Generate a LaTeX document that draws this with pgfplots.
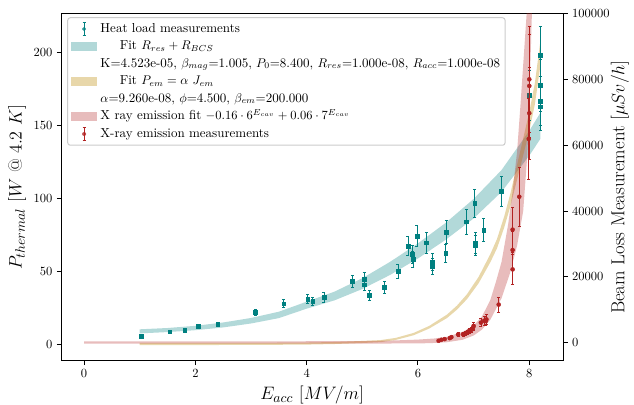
\documentclass[border=0pt]{standalone}
\usepackage{pgfplots}
\pgfplotsset{compat=1.18}
\usepackage{pgfplotstable}
\definecolor{tealc}{RGB}{0,128,128}
\definecolor{redc}{RGB}{178,34,34}
\definecolor{goldc}{RGB}{198,155,43}

% heat load measurements: E_acc, P_thermal, error
\pgfplotstableread{
E P err
1.03 5.5 0.55
1.54 8.5 0.85
1.81 9.6 0.96
2.05 12.4 1.24
2.40 13.7 1.37
3.08 21.8 2.2
3.59 27.7 2.8
4.02 30.9 3.1
4.11 29.3 2.9
4.31 32.0 3.2
4.82 43.0 4.3
5.03 44.5 4.45
5.03 40.8 4.1
5.13 33.7 3.4
5.40 39.0 3.9
5.64 50.0 5.0
5.82 67.4 6.7
5.90 61.6 6.2
5.91 58.2 5.8
5.98 74.2 7.4
6.15 69.6 7.0
6.26 56.4 5.6
6.26 53.3 5.3
6.50 62.3 6.2
6.51 77.0 7.7
6.87 84.0 8.4
7.02 96.5 9.7
7.03 68.0 6.8
7.03 69.6 7.0
7.18 78.2 7.8
7.50 105.0 10.5
8.00 171.0 17.1
8.20 198.6 19.9
8.20 178.0 17.8
8.20 167.0 16.7
8.20 163.0 16.3
}\heatdata

% x-ray measurements: E_acc, dose rate, error
\pgfplotstableread{
E D err
6.37 600 120
6.42 900 180
6.48 1100 220
6.57 1400 280
6.60 1700 340
6.72 2500 500
6.81 2600 520
6.86 2900 580
6.89 3100 620
6.92 3600 720
6.96 3900 780
6.99 4600 920
7.00 5100 1020
7.13 6100 1220
7.19 6700 1340
7.22 6600 1320
7.23 7100 1420
7.45 11600 2320
7.70 22300 4460
7.70 28200 5640
7.70 34400 6880
7.82 44400 8880
7.99 62000 12400
8.00 69800 13960
8.00 78100 15620
8.00 80100 16020
}\xraydata

\pgfplotsset{
  bandleg/.style={legend image code/.code={
    \path[fill=#1, draw=none, sharp corners] (0pt,-3.75pt) rectangle (21.4pt,3.75pt);}},
  common/.style={
    scale only axis, width=401.6pt, height=278pt,
    xmin=-0.41, xmax=8.61,
    tick align=outside, major tick length=3.5pt,
    tick style={black, line width=0.8pt},
    axis line style={line width=0.8pt},
    label style={font=\fontsize{15}{18}\selectfont},
  },
}

\begin{document}
\begin{tikzpicture}
\begin{axis}[common, name=ax,
  ymin=-11.5, ymax=227.3,
  tick pos=left,
  xtick={0,2,4,6,8}, ytick={0,50,100,150,200},
  xlabel={$E_{acc}$ $[MV/m]$},
  ylabel={$P_{thermal}$ $[W$ @ $4.2$ $K]$},
  xlabel style={at={(axis description cs:0.5,-0.099)}, anchor=center},
  ylabel style={at={(axis description cs:-0.088,0.5)}, anchor=center},
]
% fit R_res + R_BCS band
\addplot[fill=tealc, fill opacity=0.3, draw=none] coordinates {
  (1.0,10.1) (1.5,11.0) (2.0,12.5) (2.5,14.8) (3.0,17.9) (3.5,22.2)
  (4.0,29.1) (4.5,36.0) (5.0,45.2) (5.5,56.5) (6.0,69.2) (6.5,83.3)
  (7.0,99.7) (7.5,119.5) (8.0,146.5) (8.2,159.0)
  (8.2,141.0) (8.0,129.5) (7.5,104.5) (7.0,86.3) (6.5,71.7) (6.0,58.8)
  (5.5,47.5) (5.0,37.8) (4.5,30.0) (4.0,24.3) (3.5,17.8) (3.0,14.1)
  (2.5,11.4) (2.0,9.5) (1.5,8.2) (1.0,7.3)
};
% fit P_em band
\addplot[fill=goldc, fill opacity=0.4, draw=none] coordinates {
  (1.0,0.7) (2.0,0.7) (3.0,0.75) (4.0,1.0) (4.5,1.4) (5.0,2.1)
  (5.33,2.7) (5.6,4.2) (5.92,7.6) (6.2,12.4) (6.52,20.2) (6.7,26.4)
  (6.88,34.2) (7.09,46.2) (7.3,61.8) (7.42,72.2) (7.55,87.8) (7.66,103.4)
  (7.78,123.1) (7.9,142.9) (8.0,159.5) (8.1,179.3) (8.2,208.4)
  (8.2,191.6) (8.1,164.7) (8.0,146.5) (7.9,131.1) (7.78,112.9) (7.66,94.6)
  (7.55,80.2) (7.42,65.8) (7.3,56.2) (7.09,41.8) (6.88,30.8) (6.7,23.6)
  (6.52,17.8) (6.2,10.6) (5.92,6.0) (5.6,2.8) (5.33,1.3) (5.0,0.7)
  (4.5,0.0) (4.0,-0.4) (3.0,-0.65) (2.0,-0.7) (1.0,-0.7)
};
\addplot[only marks, mark=square*, mark size=1.5pt, color=tealc,
  error bars/.cd, y dir=both, y explicit,
  error bar style={line width=0.6pt, tealc},
  error mark options={rotate=90, mark size=1.2pt, line width=0.6pt, tealc}]
  table[x=E, y=P, y error=err] {\heatdata};
\end{axis}

\begin{axis}[common,
  ymin=-5480, ymax=100200,
  axis x line=none, axis y line*=right,
  ytick={0,20000,40000,60000,80000,100000},
  scaled y ticks=false,
  yticklabel style={/pgf/number format/fixed, /pgf/number format/1000 sep={}},
  ylabel={Beam Loss Measurement $[\mu Sv/h]$},
  ylabel style={at={(axis description cs:1.113,0.5)}, anchor=center},
  legend cell align=left,
  legend style={at={(axis description cs:0,1)}, anchor=north west,
    xshift=4.8pt, yshift=-3.2pt,
    draw=black!20, line width=0.8pt, rounded corners=2pt,
    fill=white, fill opacity=0.8, text opacity=1,
    font=\fontsize{10.4}{12.4}\selectfont, inner sep=2pt,
    /tikz/every even column/.append style={column sep=8pt},
    nodes={text height=7.5pt, text depth=2.5pt, inner ysep=2pt}},
]
\addlegendimage{legend image code/.code={
  \path (0pt,0pt) (21.4pt,0pt);
  \draw[tealc, line width=0.6pt, sharp corners] (10.7pt,-5pt) -- (10.7pt,5pt)
    (9.5pt,-5pt) -- (11.9pt,-5pt) (9.5pt,5pt) -- (11.9pt,5pt);
  \path[fill=tealc, draw=none] (9.2pt,-1.5pt) rectangle (12.2pt,1.5pt);}}
\addlegendentry{Heat load measurements}
\addlegendimage{bandleg={tealc, fill opacity=0.3}}
\addlegendentry{\hspace*{15.5pt}Fit $R_{res}+R_{BCS}$}
\addlegendimage{empty legend}
\addlegendentry{K=4.523e-05, $\beta_{mag}$=1.005, $P_0$=8.400, $R_{res}$=1.000e-08, $R_{acc}$=1.000e-08}
\addlegendimage{bandleg={goldc, fill opacity=0.4}}
\addlegendentry{\hspace*{15.5pt}Fit $P_{em}=\alpha\ J_{em}$}
\addlegendimage{empty legend}
\addlegendentry{$\alpha$=9.260e-08, $\phi$=4.500, $\beta_{em}$=200.000}

% x-ray emission fit band
\addplot[fill=redc, fill opacity=0.3, draw=none, bandleg={redc, fill opacity=0.3}] coordinates {
  (0,400) (3,400) (5,500) (5.5,650) (6.0,950) (6.3,1300) (6.52,1800)
  (6.8,3300) (7.0,5200) (7.15,8000) (7.3,13000) (7.4,18500) (7.5,24500)
  (7.62,36000) (7.7,46000) (7.78,58000) (7.84,72000) (7.9,87000) (7.96,102000)
  (8.05,102000) (8.02,85000) (8.0,70000) (7.96,56000) (7.89,40000)
  (7.78,29500) (7.65,21000) (7.5,13500) (7.3,7000) (7.15,4000) (7.0,2200)
  (6.8,900) (6.52,150) (6.2,-150) (5,-300) (0,-300)
};
\addlegendentry{X ray emission fit $-0.16\cdot 6^{E_{cav}}+0.06\cdot 7^{E_{cav}}$}
\addplot[only marks, mark=*, mark size=1.6pt, color=redc,
  error bars/.cd, y dir=both, y explicit,
  error bar style={line width=0.6pt, redc},
  error mark options={rotate=90, mark size=1.2pt, line width=0.6pt, redc},
  /pgfplots/legend image code/.code={
    \path (0pt,0pt) (21.4pt,0pt);
    \draw[redc, line width=0.6pt, sharp corners] (10.7pt,-5pt) -- (10.7pt,5pt)
      (9.5pt,-5pt) -- (11.9pt,-5pt) (9.5pt,5pt) -- (11.9pt,5pt);
    \path[fill=redc, draw=none] (10.7pt,0pt) circle (1.6pt);}]
  table[x=E, y=D, y error=err] {\xraydata};
\addlegendentry{X-ray emission measurements}
\end{axis}
\pgfresetboundingbox
\path[use as bounding box] ([xshift=-49pt,yshift=-35.4pt]ax.south west)
  rectangle ([xshift=56.6pt,yshift=10.6pt]ax.north east);
\end{tikzpicture}
\end{document}
